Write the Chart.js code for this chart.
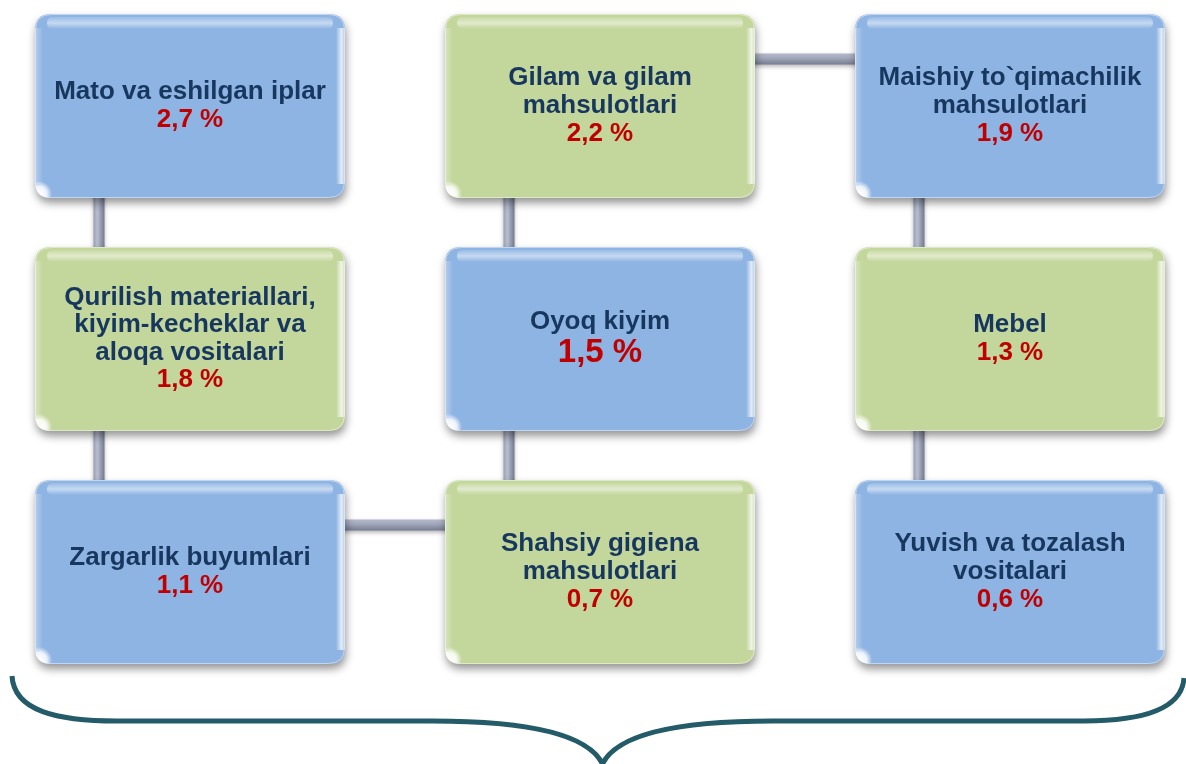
<!DOCTYPE html>
<html lang="uz">
<head>
<meta charset="UTF-8">
<title>Tovar guruhlari ulushi</title>
<script src="https://cdn.jsdelivr.net/npm/chart.js"></script>
<style>
  body { margin: 0; background: #fff; }
  #wrap { width: 1186px; height: 764px; position: relative; }
</style>
</head>
<body>
<div id="wrap"><canvas id="chart"></canvas></div>
<script>
// tovar guruhlari (kamayish tartibida, qatorma-qator)
const categories = [
  ['Mato va eshilgan iplar'],
  ['Gilam va gilam', 'mahsulotlari'],
  ['Maishiy to`qimachilik', 'mahsulotlari'],
  ['Qurilish materiallari,', 'kiyim-kecheklar va', 'aloqa vositalari'],
  ['Oyoq kiyim'],
  ['Mebel'],
  ['Zargarlik buyumlari'],
  ['Shahsiy gigiena', 'mahsulotlari'],
  ['Yuvish va tozalash', 'vositalari']
];
const shares = [2.7, 2.2, 1.9, 1.8, 1.5, 1.3, 1.1, 0.7, 0.6];
// bloklarni bog'lovchi chiziq tartibi
const pathOrder = [0, 3, 6, 7, 4, 1, 2, 5, 8];

const COLS = 3;
const BOX_W = 310, BOX_H = 184, R = 16;
const BLUE = '#8EB4E3', GREEN = '#C3D69B';
const FONT = '"Liberation Sans", Arial, sans-serif';

function rr(ctx, x, y, w, h, r) {
  ctx.beginPath();
  ctx.moveTo(x + r, y);
  ctx.lineTo(x + w - r, y);
  ctx.quadraticCurveTo(x + w, y, x + w, y + r);
  ctx.lineTo(x + w, y + h - r);
  ctx.quadraticCurveTo(x + w, y + h, x + w - r, y + h);
  ctx.lineTo(x + r, y + h);
  ctx.quadraticCurveTo(x, y + h, x, y + h - r);
  ctx.lineTo(x, y + r);
  ctx.quadraticCurveTo(x, y, x + r, y);
  ctx.closePath();
}

function drawConnector(ctx, a, b) {
  ctx.save();
  ctx.shadowColor = 'rgba(0,0,0,0.3)';
  ctx.shadowBlur = 4;
  ctx.shadowOffsetY = 2;
  if (Math.abs(a.x - b.x) < 1) {
    const x = a.x - 91;
    const y1 = Math.min(a.y, b.y) + BOX_H / 2 - 6;
    const y2 = Math.max(a.y, b.y) - BOX_H / 2 + 6;
    const g = ctx.createLinearGradient(x - 5.5, 0, x + 5.5, 0);
    g.addColorStop(0, '#9aa0b6');
    g.addColorStop(0.35, '#b9bed0');
    g.addColorStop(1, '#737a8f');
    ctx.fillStyle = g;
    ctx.fillRect(x - 5.5, y1, 11, y2 - y1);
  } else {
    const y = a.y - 47;
    const x1 = Math.min(a.x, b.x) + BOX_W / 2 - 6;
    const x2 = Math.max(a.x, b.x) - BOX_W / 2 + 6;
    const g = ctx.createLinearGradient(0, y - 5.5, 0, y + 5.5);
    g.addColorStop(0, '#b4b9cc');
    g.addColorStop(0.4, '#a3a8bd');
    g.addColorStop(1, '#767c91');
    ctx.fillStyle = g;
    ctx.fillRect(x1, y - 5.5, x2 - x1, 11);
  }
  ctx.restore();
}

function drawBox(ctx, cx, cy, base) {
  const x = cx - BOX_W / 2, y = cy - BOX_H / 2, w = BOX_W, h = BOX_H;
  ctx.save();
  ctx.shadowColor = 'rgba(0,0,0,0.42)';
  ctx.shadowBlur = 9;
  ctx.shadowOffsetX = 1;
  ctx.shadowOffsetY = 5;
  rr(ctx, x, y, w, h, R);
  ctx.fillStyle = base;
  ctx.fill();
  ctx.restore();

  ctx.save();
  rr(ctx, x, y, w, h, R);
  ctx.clip();
  // yuqori yaltiroq chiziq
  const tg = ctx.createLinearGradient(0, y + 3, 0, y + 15);
  tg.addColorStop(0, 'rgba(255,255,255,0.1)');
  tg.addColorStop(0.5, 'rgba(255,255,255,0.5)');
  tg.addColorStop(1, 'rgba(255,255,255,0)');
  ctx.fillStyle = tg;
  rr(ctx, x + 12, y + 3, w - 24, 12, 6);
  ctx.fill();
  // o'ng chekka
  const rg = ctx.createLinearGradient(x + w - 9, 0, x + w, 0);
  rg.addColorStop(0, 'rgba(255,255,255,0)');
  rg.addColorStop(0.6, 'rgba(255,255,255,0.75)');
  rg.addColorStop(1, 'rgba(255,255,255,0.3)');
  ctx.fillStyle = rg;
  ctx.fillRect(x + w - 9, y + 14, 9, h - 28);
  // chap chekka
  const lg = ctx.createLinearGradient(x, 0, x + 8, 0);
  lg.addColorStop(0, 'rgba(255,255,255,0.35)');
  lg.addColorStop(1, 'rgba(255,255,255,0)');
  ctx.fillStyle = lg;
  ctx.fillRect(x, y + 14, 8, h - 28);
  // pastki chap burchak
  const cg = ctx.createRadialGradient(x + 4, y + h - 4, 1, x + 4, y + h - 4, 13);
  cg.addColorStop(0, 'rgba(255,255,255,1)');
  cg.addColorStop(0.55, 'rgba(255,255,255,0.85)');
  cg.addColorStop(1, 'rgba(255,255,255,0)');
  ctx.fillStyle = cg;
  ctx.fillRect(x, y + h - 18, 18, 18);
  ctx.restore();

  rr(ctx, x + 0.5, y + 0.5, w - 1, h - 1, R);
  ctx.strokeStyle = 'rgba(255,255,255,0.45)';
  ctx.lineWidth = 1;
  ctx.stroke();
}

function drawLabel(ctx, cx, cy, lines, value, big) {
  const lh = 27.5, vh = big ? 35 : 28;
  const total = lines.length * lh + vh;
  let y = cy - total / 2 + lh / 2;
  ctx.save();
  ctx.textAlign = 'center';
  ctx.textBaseline = 'middle';
  ctx.fillStyle = '#17375E';
  ctx.font = 'bold 26px ' + FONT;
  lines.forEach(t => { ctx.fillText(t, cx, y); y += lh; });
  y += (vh - lh) / 2;
  ctx.fillStyle = '#C00000';
  ctx.font = (big ? 'bold 33px ' : 'bold 26px ') + FONT;
  ctx.fillText(value.toFixed(1).replace('.', ',') + ' %', cx, y);
  ctx.restore();
}

function drawBrace(ctx, area) {
  const L = area.left + 12, Rt = area.right - 2;
  const mid = area.left + area.width * 0.508;
  const top = area.top + 676, line = area.top + 721, tip = area.bottom;
  ctx.save();
  ctx.strokeStyle = '#245B69';
  ctx.lineWidth = 5;
  ctx.beginPath();
  ctx.moveTo(L, top);
  ctx.bezierCurveTo(L + 2, line - 10, L + 45, line, L + 105, line);
  ctx.lineTo(mid - 170, line);
  ctx.bezierCurveTo(mid - 80, line, mid - 15, line + 12, mid, tip);
  ctx.moveTo(mid, tip);
  ctx.bezierCurveTo(mid + 15, line + 12, mid + 80, line, mid + 170, line);
  ctx.lineTo(Rt - 100, line);
  ctx.bezierCurveTo(Rt - 40, line, Rt - 2, line - 12, Rt, top + 2);
  ctx.stroke();
  ctx.restore();
}

const boxPlugin = {
  id: 'boxes',
  beforeDatasetsDraw(chart) {
    const meta = chart.getDatasetMeta(0);
    for (let k = 0; k < pathOrder.length - 1; k++) {
      drawConnector(chart.ctx, meta.data[pathOrder[k]], meta.data[pathOrder[k + 1]]);
    }
  },
  afterDatasetsDraw(chart) {
    const ctx = chart.ctx;
    const meta = chart.getDatasetMeta(0);
    meta.data.forEach((pt, i) => {
      const col = i % COLS, row = Math.floor(i / COLS);
      drawBox(ctx, pt.x, pt.y, (col + row) % 2 === 0 ? BLUE : GREEN);
      drawLabel(ctx, pt.x, pt.y, categories[i], shares[i], i === 4);
    });
    drawBrace(ctx, chart.chartArea);
  }
};

const config = {
  type: 'scatter',
  data: {
    datasets: [{
      data: shares.map((v, i) => ({ x: i % COLS, y: Math.floor(i / COLS), v: v })),
      pointRadius: 0,
      pointHoverRadius: 0
    }]
  },
  options: {
    responsive: true,
    maintainAspectRatio: false,
    animation: false,
    events: [],
    layout: { padding: 0 },
    plugins: {
      legend: { display: false },
      tooltip: { enabled: false }
    },
    scales: {
      x: { type: 'linear', display: false, min: -190 / 410, max: (1186 - 190) / 410 },
      y: { type: 'linear', display: false, reverse: true, min: -106 / 233, max: (764 - 106) / 233 }
    }
  },
  plugins: [boxPlugin]
};

const ctx = document.querySelector('#chart').getContext('2d');
const myChart = new Chart(ctx, config);
</script>
</body>
</html>
